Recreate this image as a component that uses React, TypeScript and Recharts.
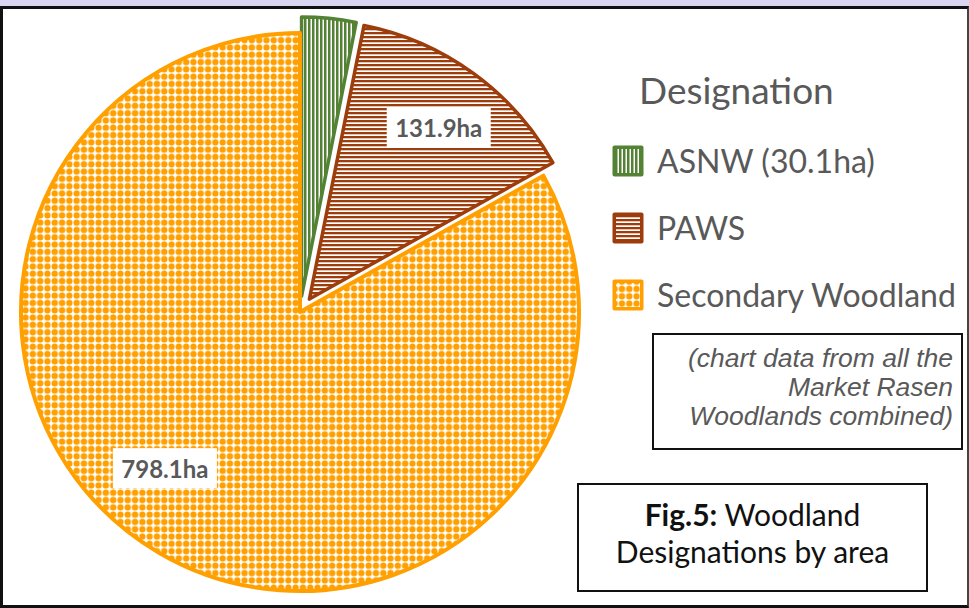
import { PieChart, Pie, Cell } from "recharts";

const categories = ["ASNW", "PAWS", "Secondary Woodland"];
const areas = [30.1, 131.9, 798.1];
const legendLabels = ["ASNW (30.1ha)", "PAWS", "Secondary Woodland"];
const showPieLabel = [false, true, true];

const colors = ["#548235", "#9E3D0C", "#FFA000"];
const patternIds = ["pat-vert", "pat-horiz", "pat-dots"];
const explode = [16, 16, 0];

const data = categories.map((name, i) => ({ name, value: areas[i] }));

const CX = 300;
const CY = 312;
const R = 279;
const START = 90;
const END = -270;

// mid angle of each slice, only used to push exploded slices outwards
const total = areas.reduce((a, b) => a + b, 0);
const midAngles = areas.map((v, i) => {
  const before = areas.slice(0, i).reduce((a, b) => a + b, 0);
  return START - ((before + v / 2) / total) * 360;
});

const RAD = Math.PI / 180;
const labelNudge: Record<string, { r: number; da: number }> = {
  PAWS: { r: 0.77, da: -1 },
  "Secondary Woodland": { r: 0.74, da: -10.5 },
};

function Patterns() {
  return (
    <defs>
      <pattern id="pat-vert" width="4" height="4" patternUnits="userSpaceOnUse">
        <rect width="4" height="4" fill="#fff" />
        <rect x="0" y="0" width="2.5" height="4" fill={colors[0]} />
      </pattern>
      <pattern id="pat-horiz" width="4" height="4" patternUnits="userSpaceOnUse">
        <rect width="4" height="4" fill="#fff" />
        <rect x="0" y="0" width="4" height="2.3" fill={colors[1]} />
      </pattern>
      <pattern id="pat-dots" width="7.3" height="7.3" patternUnits="userSpaceOnUse">
        <rect width="7.3" height="7.3" fill="#fff" />
        <circle cx="3.65" cy="3.65" r="3.2" fill={colors[2]} />
      </pattern>
    </defs>
  );
}

function makeLabel(slice: number) {
  return (props: any) => {
    const { cx, cy, midAngle, outerRadius, index, value, name } = props;
    if (index !== slice || !showPieLabel[index]) return null;
    const n = labelNudge[name] || { r: 0.75, da: 0 };
    const a = (midAngle + n.da) * RAD;
    const x = cx + outerRadius * n.r * Math.cos(a);
    const y = cy - outerRadius * n.r * Math.sin(a);
    return (
      <g>
        <rect x={x - 52} y={y - 20} width={104} height={40} fill="#fff" />
        <text
          x={x}
          y={y}
          textAnchor="middle"
          dominantBaseline="central"
          fontFamily="Lato"
          fontWeight="bold"
          fontSize={24}
          fill="#595959"
        >
          {`${value}ha`}
        </text>
      </g>
    );
  };
}

function LegendIcon({ i }: { i: number }) {
  return (
    <svg width={34} height={34} style={{ display: "block" }}>
      <rect x={1.5} y={1.5} width={31} height={31} rx={2} fill={colors[i]} />
      <rect x={5} y={5} width={24} height={24} fill={`url(#${patternIds[i]})`} />
    </svg>
  );
}

export default function App() {
  return (
    <div
      style={{
        position: "absolute",
        left: 0,
        top: 0,
        width: 969,
        height: 608,
        background: "#DAD6F2",
        overflow: "hidden",
      }}
    >
      <div
        style={{
          position: "absolute",
          left: 0,
          top: 6,
          width: 969,
          height: 602,
          boxSizing: "border-box",
          background: "#fff",
          borderTop: "3px solid #111",
          borderLeft: "3px solid #111",
          borderBottom: "3px solid #111",
          borderRight: "2px solid #444",
        }}
      />
      <div style={{ position: "absolute", left: 0, top: 0 }}>
        <PieChart width={969} height={608} margin={{ top: 0, right: 0, bottom: 0, left: 0 }}>
          <Patterns />
          {data.map((_, s) => {
            const off = explode[s];
            const a = midAngles[s] * RAD;
            return (
              <Pie
                key={s}
                data={data}
                dataKey="value"
                nameKey="name"
                cx={CX + off * Math.cos(a)}
                cy={CY - off * Math.sin(a)}
                outerRadius={R}
                startAngle={START}
                endAngle={END}
                isAnimationActive={false}
                labelLine={false}
                label={makeLabel(s)}
              >
                {data.map((d, i) => (
                  <Cell
                    key={d.name}
                    fill={i === s ? `url(#${patternIds[i]})` : "none"}
                    stroke={i === s ? colors[i] : "none"}
                    strokeWidth={i === 2 ? 4 : 3.5}
                    strokeLinejoin="round"
                  />
                ))}
              </Pie>
            );
          })}
        </PieChart>
      </div>

      <div
        style={{
          position: "absolute",
          left: 639,
          top: 67,
          fontFamily: "Lato",
          fontSize: 37,
          color: "#595959",
          lineHeight: "46px",
        }}
      >
        Designation
      </div>
      {legendLabels.map((label, i) => (
        <div
          key={label}
          style={{
            position: "absolute",
            left: 611,
            top: 141 + i * 67,
            display: "flex",
            alignItems: "center",
            fontFamily: "Lato",
            fontSize: 32,
            color: "#595959",
            whiteSpace: "nowrap",
          }}
        >
          <LegendIcon i={i} />
          <span style={{ marginLeft: 12 }}>{label}</span>
        </div>
      ))}

      <div
        style={{
          position: "absolute",
          left: 652,
          top: 333,
          width: 311,
          height: 117,
          boxSizing: "border-box",
          border: "2.5px solid #111",
          fontFamily: "Liberation Sans",
          fontStyle: "italic",
          fontSize: 26.5,
          lineHeight: "29px",
          color: "#595959",
          textAlign: "right",
          padding: "9px 8px 0 0",
          whiteSpace: "nowrap",
        }}
      >
        (chart data from all the
        <br />
        Market Rasen
        <br />
        Woodlands combined)
      </div>

      <div
        style={{
          position: "absolute",
          left: 577,
          top: 483,
          width: 351,
          height: 109,
          boxSizing: "border-box",
          border: "2.5px solid #111",
          fontFamily: "Lato",
          fontSize: 30,
          lineHeight: "37px",
          color: "#111",
          textAlign: "center",
          paddingTop: 11,
        }}
      >
        <b>Fig.5:</b> Woodland
        <br />
        Designations by area
      </div>
    </div>
  );
}
